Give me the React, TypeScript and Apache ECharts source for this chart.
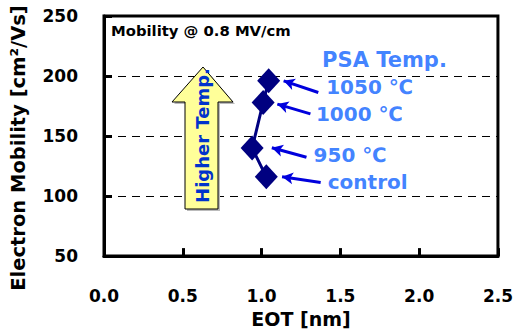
import React, { useEffect, useRef } from "react";
import * as echarts from "echarts";

const eot = [1.03, 0.94, 1.01, 1.045];
const mobility = [116, 140, 178, 196];
const conditions = ["control", "950 ℃", "1000 ℃", "1050 ℃"];
// label anchor (data coords)
const labelPos = [
  [1.42, 111.5],
  [1.33, 134],
  [1.345, 168],
  [1.41, 190.5],
];
// arrow tail -> head (data coords)
const arrowTails = [
  [1.375, 111.3],
  [1.285, 132.3],
  [1.31, 168.5],
  [1.36, 186.3],
];
const arrowHeads = [
  [1.13, 116.1],
  [1.065, 140.3],
  [1.1, 176.6],
  [1.14, 196],
];
const xTicks = [0, 0.5, 1.0, 1.5, 2.0, 2.5];
const yTicks = [50, 100, 150, 200, 250];

const FONT = "DejaVu Sans, sans-serif";
const LABEL_BLUE = "#0f62ff";

export default function App() {
  const ref = useRef<HTMLDivElement>(null);
  useEffect(() => {
    if (!ref.current) return;
    const chart = echarts.init(ref.current, null, { renderer: "svg" });
    const option: any = {
      animation: false,
      backgroundColor: "#fff",
      grid: {
        left: 104,
        right: 15,
        top: 16,
        bottom: 69,
        show: true,
        borderColor: "#000",
        borderWidth: 3,
      },
      xAxis: {
        type: "value",
        min: xTicks[0],
        max: xTicks[xTicks.length - 1],
        interval: 0.5,
        name: "EOT [nm]",
        nameLocation: "middle",
        nameGap: 52,
        nameTextStyle: { fontFamily: FONT, fontWeight: "bold", fontSize: 19, color: "#000" },
        axisLine: { show: true, lineStyle: { color: "#000", width: 3 } },
        axisTick: { show: true, inside: true, length: 8, lineStyle: { color: "#000", width: 3 } },
        axisLabel: {
          margin: 31,
          fontFamily: FONT,
          fontWeight: "bold",
          fontSize: 17,
          color: "#000",
          formatter: (v: number) => v.toFixed(1),
        },
        splitLine: { show: false },
      },
      yAxis: {
        type: "value",
        min: yTicks[0],
        max: yTicks[yTicks.length - 1],
        interval: 50,
        axisLine: { show: true, lineStyle: { color: "#000", width: 3 } },
        axisTick: { show: true, inside: true, length: 8, lineStyle: { color: "#000", width: 3 } },
        axisLabel: {
          margin: 26,
          fontFamily: FONT,
          fontWeight: "bold",
          fontSize: 17,
          color: "#000",
        },
        splitLine: { show: true, lineStyle: { color: "#000", width: 1, type: [8, 6] } },
      },
      graphic: [
        {
          type: "text",
          x: 18,
          y: 148,
          rotation: Math.PI / 2,
          style: {
            text: "Electron Mobility [cm²/Vs]",
            fontFamily: FONT,
            fontWeight: "bold",
            fontSize: 19.5,
            fill: "#000",
            align: "center",
            verticalAlign: "middle",
          },
        },
        {
          type: "text",
          left: 111,
          top: 23,
          style: {
            text: "Mobility @ 0.8 MV/cm",
            fontFamily: FONT,
            fontWeight: "bold",
            fontSize: 14.8,
            fill: "#000",
          },
        },
        {
          type: "polygon",
          shape: {
            points: [
              [205, 69],
              [235, 104],
              [220, 104],
              [220, 211],
              [187, 211],
              [187, 104],
              [174, 104],
            ],
          },
          style: { fill: "#bbb", stroke: "none" },
          z: 5,
        },
        {
          type: "polygon",
          shape: {
            points: [
              [203, 67],
              [233, 102],
              [218, 102],
              [218, 209],
              [185, 209],
              [185, 102],
              [172, 102],
            ],
          },
          style: { fill: "#ffff99", stroke: "#000", lineWidth: 1 },
          z: 6,
        },
        {
          type: "text",
          x: 202,
          y: 135.5,
          rotation: Math.PI / 2,
          style: {
            text: "Higher Temp.",
            fontFamily: FONT,
            fontWeight: "bold",
            fontSize: 18,
            fill: "#0033cc",
            align: "center",
            verticalAlign: "middle",
          },
          z: 7,
        },
      ],
      series: [
        {
          type: "line",
          data: eot.map((x, i) => [x, mobility[i]]),
          symbol: "diamond",
          symbolSize: [23, 25],
          lineStyle: { color: "#000080", width: 3 },
          itemStyle: { color: "#000080" },
          z: 10,
          markLine: {
            silent: true,
            symbol: ["none", "arrow"],
            symbolSize: [9, 11],
            lineStyle: { color: "#0000dd", width: 3, type: "solid" },
            label: { show: false },
            data: arrowTails.map((t, i) => [
              { coord: t },
              { coord: arrowHeads[i] },
            ]),
          },
        },
        {
          type: "scatter",
          data: labelPos.map((p, i) => ({ value: p, name: conditions[i] })),
          symbolSize: 0,
          label: {
            show: true,
            position: "right",
            distance: 0,
            formatter: (p: any) => p.name,
            fontFamily: FONT,
            fontWeight: "bold",
            fontSize: 20,
            color: LABEL_BLUE,
          },
          z: 11,
        },
        {
          type: "scatter",
          data: [{ value: [1.78, 213], name: "PSA Temp." }],
          symbolSize: 0,
          label: {
            show: true,
            position: "inside",
            formatter: (p: any) => p.name,
            fontFamily: FONT,
            fontWeight: "bold",
            fontSize: 21,
            color: LABEL_BLUE,
          },
          z: 11,
        },
      ],
    };
    chart.setOption(option);
    return () => chart.dispose();
  }, []);
  return (
    <div
      ref={ref}
      style={{ position: "fixed", left: 0, top: 0, width: 516, height: 333 }}
    />
  );
}
